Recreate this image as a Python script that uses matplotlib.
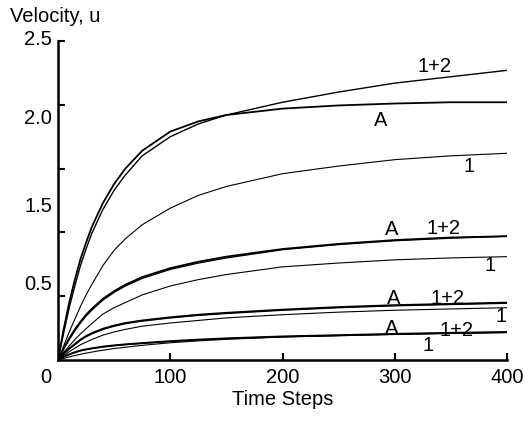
import matplotlib
matplotlib.use("Agg")
import matplotlib.pyplot as plt

# time steps at which the curves were read
steps = [0, 5, 10, 15, 20, 25, 30, 40, 50, 60, 75, 100, 125, 150, 200, 250, 300, 350, 400]

# top group
top_A = [0, 0.24, 0.45, 0.63, 0.79, 0.92, 1.04, 1.23, 1.38, 1.50, 1.64, 1.79, 1.87, 1.92, 1.97, 1.995, 2.01, 2.02, 2.02]
top_12 = [0, 0.21, 0.41, 0.58, 0.74, 0.87, 0.99, 1.18, 1.33, 1.45, 1.60, 1.75, 1.85, 1.92, 2.02, 2.10, 2.17, 2.22, 2.27]
top_1 = [0, 0.11, 0.22, 0.32, 0.42, 0.51, 0.59, 0.74, 0.86, 0.95, 1.06, 1.19, 1.29, 1.36, 1.46, 1.52, 1.57, 1.60, 1.62]

# second group
sec_A = [0, 0.09, 0.17, 0.24, 0.30, 0.355, 0.40, 0.48, 0.54, 0.59, 0.65, 0.72, 0.77, 0.81, 0.87, 0.91, 0.94, 0.96, 0.97]
sec_12 = [0, 0.085, 0.16, 0.23, 0.29, 0.345, 0.39, 0.47, 0.53, 0.58, 0.64, 0.71, 0.76, 0.80, 0.865, 0.905, 0.935, 0.955, 0.97]
sec_1 = [0, 0.06, 0.11, 0.16, 0.205, 0.245, 0.285, 0.36, 0.41, 0.45, 0.51, 0.58, 0.63, 0.67, 0.73, 0.76, 0.785, 0.80, 0.81]

# third group
thr_A = [0, 0.05, 0.09, 0.125, 0.16, 0.188, 0.21, 0.245, 0.27, 0.29, 0.31, 0.335, 0.355, 0.37, 0.395, 0.415, 0.43, 0.44, 0.45]
thr_12 = [0, 0.047, 0.086, 0.12, 0.155, 0.182, 0.205, 0.24, 0.265, 0.285, 0.305, 0.33, 0.35, 0.365, 0.39, 0.41, 0.425, 0.435, 0.445]
thr_1 = [0, 0.035, 0.065, 0.093, 0.12, 0.14, 0.16, 0.195, 0.22, 0.24, 0.265, 0.29, 0.31, 0.33, 0.355, 0.375, 0.39, 0.40, 0.41]

# bottom group
bot_A = [0, 0.025, 0.045, 0.061, 0.075, 0.084, 0.092, 0.105, 0.115, 0.123, 0.133, 0.148, 0.16, 0.17, 0.185, 0.195, 0.205, 0.213, 0.22]
bot_12 = [0, 0.023, 0.042, 0.058, 0.072, 0.081, 0.089, 0.102, 0.112, 0.12, 0.13, 0.145, 0.157, 0.167, 0.182, 0.192, 0.202, 0.21, 0.217]
bot_1 = [0, 0.012, 0.024, 0.035, 0.045, 0.054, 0.062, 0.077, 0.09, 0.10, 0.115, 0.135, 0.15, 0.162, 0.18, 0.19, 0.20, 0.208, 0.214]

# curve labels: (text, x, y)
labels = [("1+2", 335, 2.30), ("A", 287, 1.88), ("1", 366, 1.52),
          ("A", 297, 1.02), ("1+2", 343, 1.03), ("1", 385, 0.74),
          ("A", 299, 0.48), ("1+2", 347, 0.48), ("1", 395, 0.34),
          ("A", 297, 0.25), ("1+2", 355, 0.235), ("1", 330, 0.11)]

# y labels sit off their ticks in the original figure
ylabel_txt = ["2.5", "2.0", "1.5", "0.5"]
ylabel_pos = [2.51, 1.89, 1.20, 0.59]

plt.rcParams['font.family'] = ['Liberation Sans', 'DejaVu Sans']
plt.rcParams['font.size'] = 14.5

fig = plt.figure(figsize=(5.28, 4.24), dpi=100)
ax = fig.add_axes([58 / 528, 1 - 360 / 424, 449 / 528, 319 / 424])

for ys in [top_A, sec_A, thr_A, bot_A]:
    ax.plot(steps, ys, color='black', lw=1.3)
for ys in [top_12, sec_12, thr_12, bot_12]:
    ax.plot(steps, ys, color='black', lw=1.0)
for ys in [top_1, sec_1, thr_1, bot_1]:
    ax.plot(steps, ys, color='black', lw=0.8)

for txt, x, y in labels:
    ax.text(x, y, txt, ha='center', va='center')

ax.set_xlim(0, 400)
ax.set_ylim(0, 2.5)
ax.spines['top'].set_visible(False)
ax.spines['right'].set_visible(False)
ax.spines['left'].set_linewidth(1.8)
ax.spines['bottom'].set_linewidth(1.8)

ax.set_xticks([100, 200, 300, 400])
ax.set_xticklabels(['100', '200', '300', '400'])
ax.set_yticks([0.5, 1.0, 1.5, 2.0, 2.5])
ax.set_yticklabels([])
ax.tick_params(direction='in', length=5, width=1.5)
ax.tick_params(axis='x', pad=6)

for txt, y in zip(ylabel_txt, ylabel_pos):
    ax.text(-5.3, y, txt, ha='right', va='center', clip_on=False)
ax.text(-10.7, -0.14, "0", ha='center', va='center', clip_on=False)

ax.set_xlabel("Time Steps", labelpad=2)
fig.text(10 / 528, 1 - 16 / 424, "Velocity, u", ha='left', va='center')

fig.savefig("out.png", dpi=100)
